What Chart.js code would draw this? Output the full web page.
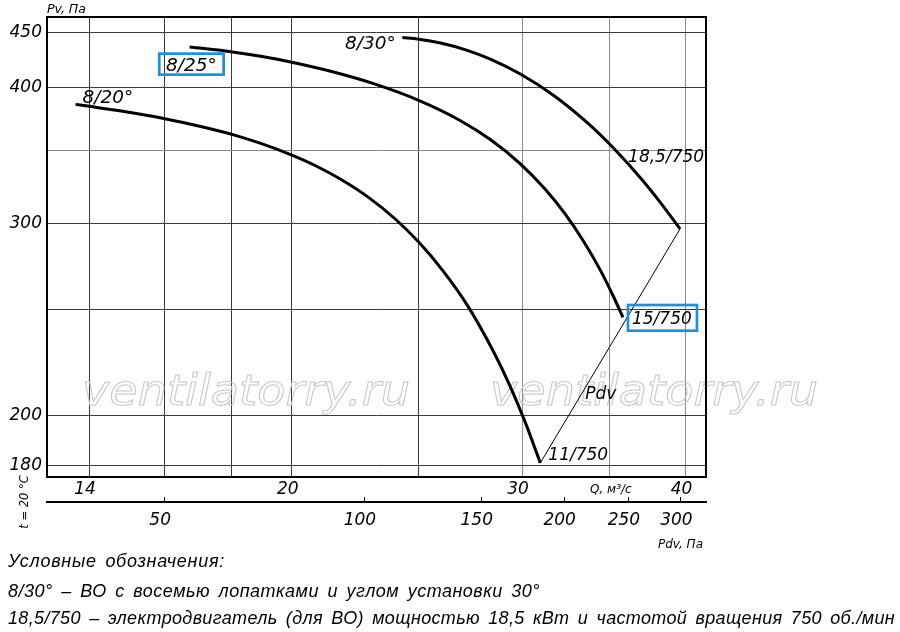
<!DOCTYPE html>
<html lang="ru"><head><meta charset="utf-8"><title>Характеристика вентилятора</title>
<script src="https://cdn.jsdelivr.net/npm/chart.js@4.4.1/dist/chart.umd.min.js"></script>
<style>
html,body{margin:0;padding:0;background:#fff;overflow:hidden}
#wrap{position:relative;width:900px;height:632px}
#c{position:absolute;left:0;top:0}
.leg{position:absolute;left:8px;font-family:"Liberation Sans Narrow","Liberation Sans",sans-serif;font-style:italic;font-size:18px;line-height:18px;white-space:nowrap;color:#000;word-spacing:3px}
</style></head><body>
<div id="wrap">
<canvas id="c" width="900" height="632"></canvas>
<div class="leg" data-w="217" style="top:552px"></div>
<div class="leg" data-w="532" style="top:582px"></div>
<div class="leg" data-w="887" style="top:609px"></div>
</div>
<script>
// ---- data ----
const qTicks = [14, 16, 18, 20, 25, 30, 35, 40];
const qTickLabels = ['14', '', '', '20', '', '30', '', '40'];
const pvTicks = [180, 200, 250, 300, 350, 400, 450];
const pvTickLabels = ['180', '200', '', '300', '', '400', '450'];
const pdvTicks = [50, 100, 150, 200, 250, 300];
const pdvTickLabels = ['50', '100', '150', '200', '250', '300'];

const q20 = [13.67, 14.01, 14.81, 16.03, 17.04, 18.03, 18.94, 19.96, 20.86, 21.80, 22.88, 24.01, 25.01, 26.12, 27.24, 28.52, 29.39, 30.17, 30.98];
const pv20 = [386.2, 384.6, 380.8, 374.5, 368.6, 362.3, 355.6, 347.3, 339.2, 329.6, 317.4, 302.9, 288.6, 271.3, 252.6, 229.1, 212.5, 197.1, 180.9];
const q25 = [16.71, 18.02, 18.94, 20.00, 21.42, 23.10, 25.01, 26.92, 28.37, 29.91, 31.25, 32.37, 33.41, 34.43, 35.22, 35.83];
const pv25 = [436.0, 431.5, 427.5, 422.2, 414.2, 403.5, 389.5, 373.1, 358.5, 340.6, 322.7, 306.2, 289.4, 272.0, 257.5, 246.1];
const q30 = [24.30, 25.01, 25.99, 27.24, 28.37, 29.91, 31.70, 33.63, 35.22, 37.04, 38.25, 39.62];
const pv30 = [444.8, 443.3, 439.7, 433.0, 425.0, 411.8, 393.7, 371.7, 352.3, 329.5, 314.1, 296.8];
const qPdv = [30.98, 39.62];
const pvPdv = [180.9, 296.8];

const qRange = [13.0, 41.47];
const pvRange = [175.6, 464.6];
const pdvRange = [33.3, 327.8];

const curveLabels = ['8/20°', '8/25°', '8/30°'];
const motorLabels = ['11/750', '15/750', '18,5/750'];
const legendLines = [
  'Условные обозначения:',
  '8/30° – ВО с восемью лопатками и углом установки 30°',
  '18,5/750 – электродвигатель (для ВО) мощностью 18,5 кВт и частотой вращения 750 об./мин'
];
const watermark = 'ventilatorry.ru';

// ---- helpers ----
const FAM = '"DejaVu Sans", sans-serif';
const pts = (qs, ps) => qs.map((q, i) => ({x: q, y: ps[i]}));
const curve = (label, qs, ps, w) => ({
  label, data: pts(qs, ps), showLine: true, borderColor: '#000', backgroundColor: '#000',
  borderWidth: w, pointRadius: 0, pointHoverRadius: 0, cubicInterpolationMode: 'monotone',
  fill: false, xAxisID: 'x', yAxisID: 'y'
});
function txt(ctx, s, x, y, size, align) {
  ctx.font = 'italic ' + size + 'px ' + FAM;
  ctx.textAlign = align || 'left';
  ctx.textBaseline = 'alphabetic';
  ctx.fillStyle = '#000';
  ctx.fillText(s, x, y);
}
function boxed(ctx, s, x, y, w, h, size, tx, ty) {
  ctx.save();
  ctx.strokeStyle = '#1a8fe3';
  ctx.lineWidth = 2.7;
  ctx.strokeRect(x, y, w, h);
  ctx.restore();
  txt(ctx, s, tx, ty, size);
}

const refPlugin = {
  id: 'ref',
  beforeDatasetsDraw(chart) {
    const {ctx, chartArea: a} = chart;
    ctx.save();
    ctx.font = 'italic 42px ' + FAM;
    ctx.textAlign = 'left'; ctx.textBaseline = 'alphabetic';
    ctx.strokeStyle = '#c8c8c8'; ctx.lineWidth = 1;
    const w = ctx.measureText(watermark).width;
    for (const wx of [a.left + 35, a.left + 443]) {
      ctx.save(); ctx.translate(wx, a.top + 388); ctx.scale(328 / w, 1);
      ctx.strokeText(watermark, 0, 0); ctx.restore();
    }
    ctx.restore();
  },
  afterDraw(chart) {
    const {ctx, chartArea: a, scales} = chart;
    const sx = scales.x, sy = scales.y, sp = scales.xp;
    const P = (q, p) => ({x: sx.getPixelForValue(q), y: sy.getPixelForValue(p)});
    ctx.save();
    // frame
    ctx.strokeStyle = '#000'; ctx.lineWidth = 2;
    ctx.strokeRect(a.left, a.top, a.right - a.left, a.bottom - a.top);
    // Pdv axis line and ticks
    ctx.beginPath(); ctx.moveTo(a.left - 1, sp.top); ctx.lineTo(a.right + 1, sp.top); ctx.stroke();
    ctx.lineWidth = 1;
    for (const v of pdvTicks) {
      const x = Math.round(sp.getPixelForValue(v)) + 0.5;
      ctx.beginPath(); ctx.moveTo(x, sp.top); ctx.lineTo(x, sp.top - 5); ctx.stroke();
    }
    // curve labels
    const s20 = P(q20[0], pv20[0]), e20 = P(q20[q20.length - 1], pv20[pv20.length - 1]);
    const s25 = P(q25[0], pv25[0]), e25 = P(q25[q25.length - 1], pv25[pv25.length - 1]);
    const s30 = P(q30[0], pv30[0]), e30 = P(q30[q30.length - 1], pv30[pv30.length - 1]);
    txt(ctx, curveLabels[0], s20.x + 7, s20.y - 1, 18.5);
    boxed(ctx, curveLabels[1], s25.x - 30.4, s25.y + 6.6, 64.4, 21, 18.5, s25.x - 23.7, s25.y + 24);
    txt(ctx, curveLabels[2], s30.x - 6.5, s30.y + 11, 18.5, 'right');
    txt(ctx, motorLabels[0], e20.x + 8, e20.y - 2.5, 17);
    boxed(ctx, motorLabels[1], e25.x + 5, e25.y - 12.4, 69, 25.7, 17, e25.x + 9, e25.y + 6.6);
    txt(ctx, motorLabels[2], e30.x - 52, e30.y - 66.6, 17);
    txt(ctx, 'Pdv', e20.x + 45, e20.y - 64, 17);
    // axis titles
    txt(ctx, 'Pv, Па', a.left, 13, 12.5);
    txt(ctx, 'Q, м³/с', 590, 493, 12);
    txt(ctx, 'Pdv, Па', 658, 548, 12);
    ctx.save();
    ctx.translate(25, 502); ctx.rotate(-Math.PI / 2);
    ctx.font = 'italic 11.5px ' + FAM; ctx.textAlign = 'center'; ctx.textBaseline = 'middle';
    ctx.fillStyle = '#000'; ctx.fillText('t = 20 °C', 0, 0);
    ctx.restore();
    ctx.restore();
  }
};

const tickFont = {family: FAM, size: 17, style: 'italic'};

new Chart(document.getElementById('c'), {
  type: 'scatter',
  data: {datasets: [
    curve(curveLabels[0], q20, pv20, 3),
    curve(curveLabels[1], q25, pv25, 3),
    curve(curveLabels[2], q30, pv30, 3),
    Object.assign(curve('Pdv', qPdv, pvPdv, 1), {cubicInterpolationMode: 'default', tension: 0})
  ]},
  options: {
    responsive: false, animation: false, devicePixelRatio: 1, events: [],
    layout: {padding: {left: 0, right: 194, top: 17, bottom: 90}},
    plugins: {legend: {display: false}, tooltip: {enabled: false}},
    scales: {
      x: {
        type: 'logarithmic', position: 'bottom', weight: 0, bounds: 'data',
        min: qRange[0], max: qRange[1],
        afterBuildTicks: s => { s.ticks = qTicks.map(v => ({value: v})); },
        afterFit: s => { s.height = 25; },
        grid: {color: c => (c.tick && c.tick.value >= 30) ? '#8a8a8a' : '#3a3a3a', lineWidth: 1, drawTicks: false},
        border: {display: false},
        ticks: {font: tickFont, color: '#000', padding: 2, labelOffset: -4, maxRotation: 0, minRotation: 0,
          autoSkip: false, callback: (v, i) => qTickLabels[i]}
      },
      xp: {
        type: 'logarithmic', position: 'bottom', weight: 1, bounds: 'data',
        min: pdvRange[0], max: pdvRange[1],
        afterBuildTicks: s => { s.ticks = pdvTicks.map(v => ({value: v})); },
        afterFit: s => { s.height = 40; },
        grid: {display: false, drawTicks: false},
        border: {display: false},
        ticks: {font: tickFont, color: '#000', padding: 8, labelOffset: -4, maxRotation: 0, minRotation: 0,
          autoSkip: false, callback: (v, i) => pdvTickLabels[i]}
      },
      y: {
        type: 'logarithmic', position: 'left', bounds: 'data',
        min: pvRange[0], max: pvRange[1],
        afterBuildTicks: s => { s.ticks = pvTicks.map(v => ({value: v})); },
        afterFit: s => { s.width = 47; },
        grid: {color: c => (c.tick && c.tick.value === 350) ? '#8a8a8a' : '#3a3a3a', lineWidth: 1, drawTicks: false},
        border: {display: false},
        ticks: {font: tickFont, color: '#000', padding: 5, autoSkip: false, callback: (v, i) => pvTickLabels[i]}
      }
    }
  },
  plugins: [refPlugin]
});

document.querySelectorAll('.leg').forEach((el, i) => {
  el.textContent = legendLines[i];
  const w = el.getBoundingClientRect().width;
  const target = +el.dataset.w;
  el.style.letterSpacing = ((target - w) / legendLines[i].length) + 'px';
});
</script>
</body></html>
